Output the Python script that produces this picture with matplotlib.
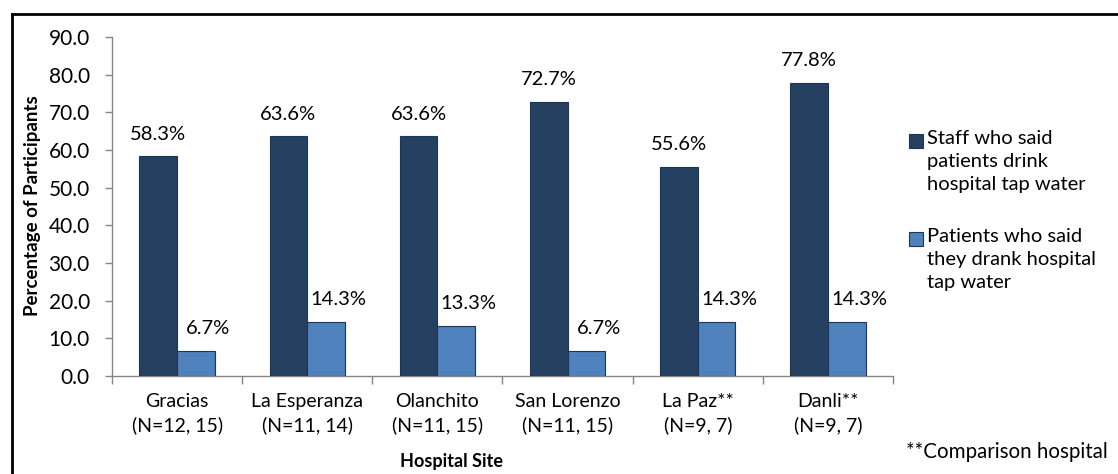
import matplotlib
matplotlib.use("Agg")
import matplotlib.pyplot as plt
from matplotlib.patches import Rectangle
from matplotlib.lines import Line2D
import numpy as np

plt.rcParams['font.family'] = ['Lato', 'DejaVu Sans']

sites = ["Gracias", "La Esperanza", "Olanchito", "San Lorenzo", "La Paz**", "Danli**"]
sample_sizes = ["(N=12, 15)", "(N=11, 14)", "(N=11, 15)", "(N=11, 15)", "(N=9, 7)", "(N=9, 7)"]
staff_pct = [58.3, 63.6, 63.6, 72.7, 55.6, 77.8]
patient_pct = [6.7, 14.3, 13.3, 6.7, 14.3, 14.3]
series_names = ["Staff who said\npatients drink\nhospital tap water",
                "Patients who said\nthey drank hospital\ntap water"]
yticks = [0, 10, 20, 30, 40, 50, 60, 70, 80, 90]

dark = "#264061"
light = "#4F81BD"
edge = "#1F3554"
grey = "#868686"

W, H = 1118, 474
fig = plt.figure(figsize=(W / 100, H / 100), dpi=100)
ax = fig.add_axes([112 / W, 1 - 376 / H, (893 - 112) / W, (376 - 37) / H])

x = np.arange(len(sites))
bw = 0.29
ax.bar(x - bw / 2, staff_pct, bw, color=dark, edgecolor=edge, linewidth=0.8, zorder=3)
ax.bar(x + bw / 2, patient_pct, bw, color=light, edgecolor=edge, linewidth=0.8, zorder=3)

for xi, v in zip(x, staff_pct):
    ax.annotate(f"{v:.1f}%", (xi - bw / 2, v), xytext=(0, 16), textcoords="offset points",
                ha="center", va="center", fontsize=14.5, color="black")
for xi, v in zip(x, patient_pct):
    ax.annotate(f"{v:.1f}%", (xi + bw / 2, v), xytext=(9, 16), textcoords="offset points",
                ha="center", va="center", fontsize=14.5, color="black")

ax.set_xlim(-0.5, len(sites) - 0.5)
ax.set_ylim(0, 90)
ax.set_yticks(yticks)
ax.set_yticklabels([f"{t:.1f}" for t in yticks], fontsize=15)
ax.tick_params(axis="y", direction="out", length=5, width=1, color=grey, pad=11)

# category labels below the axis, ticks at category boundaries
ax.set_xticks(np.arange(-0.5, len(sites)))
ax.set_xticklabels([])
ax.tick_params(axis="x", direction="out", length=6, width=1, color=grey)
for xi, s, n in zip(x, sites, sample_sizes):
    ax.text(xi, -0.05, s + "\n" + n, transform=ax.get_xaxis_transform(),
            ha="center", va="top", fontsize=14, linespacing=1.4)

for side in ["top", "right"]:
    ax.spines[side].set_visible(False)
for side in ["left", "bottom"]:
    ax.spines[side].set_color(grey)
    ax.spines[side].set_linewidth(1)

fig.text(33 / W, 1 - 206 / H, "Percentage of Participants", rotation=90,
         ha="center", va="center", fontsize=13.5, fontweight="bold")
fig.text(452 / W, 1 - 462 / H, "Hospital Site", ha="center", va="center",
         fontsize=13, fontweight="bold")
fig.text(1007 / W, 1 - 452 / H, "**Comparison hospital", ha="center", va="center",
         fontsize=14.8)

# legend
for (top, color), label in zip([(134, dark), (232, light)], series_names):
    fig.add_artist(Rectangle((909 / W, 1 - (top + 14) / H), 14 / W, 14 / H,
                             transform=fig.transFigure, facecolor=color,
                             edgecolor=edge, linewidth=0.8))
    fig.text(927 / W, 1 - (top - 4) / H, label, ha="left", va="top",
             fontsize=14.5, linespacing=1.42)

# outer frame
fig.add_artist(Line2D([11.5 / W, 1], [1 - 13.5 / H, 1 - 13.5 / H], color="black",
                      linewidth=2, transform=fig.transFigure))
fig.add_artist(Line2D([11.5 / W, 11.5 / W], [0, 1 - 13.5 / H], color="black",
                      linewidth=2, transform=fig.transFigure))

fig.savefig("out.png", dpi=100, facecolor="white")
